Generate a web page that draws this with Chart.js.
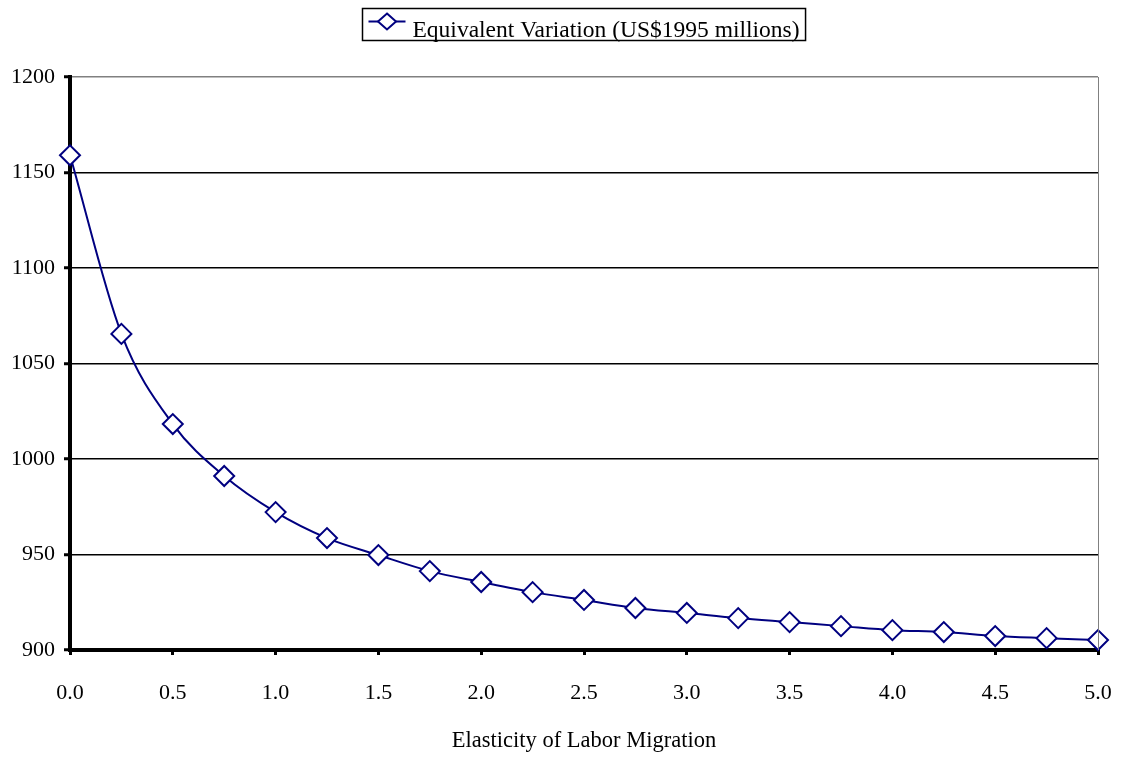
<!DOCTYPE html>
<html>
<head>
<meta charset="utf-8">
<script src="https://cdn.jsdelivr.net/npm/chart.js@4"></script>
<style>
  html, body { margin: 0; padding: 0; background: #fff; }
  #wrap { width: 1122px; height: 757px; }
</style>
</head>
<body>
<div id="wrap"><canvas id="myChart" width="1122" height="757"></canvas></div>
<script>
// values
const elasticity = [0, 0.25, 0.5, 0.75, 1.0, 1.25, 1.5, 1.75, 2.0, 2.25, 2.5,
                    2.75, 3.0, 3.25, 3.5, 3.75, 4.0, 4.25, 4.5, 4.75, 5.0];
const equivVariation = [1159, 1065.5, 1018.3, 991.1, 972.2, 958.6, 949.7, 941.3, 935.6, 930.3, 926.2,
                        922.0, 919.4, 916.7, 914.6, 912.5, 910.4, 909.4, 907.3, 906.2, 905.2];
const seriesLabel = 'Equivalent Variation (US$1995 millions)';
const xTitle = 'Elasticity of Labor Migration';

const navy = '#000080';
const serif = "'Liberation Serif', 'DejaVu Serif', serif";

// legend box and right gray border, drawn by hand like the original
const extras = {
  id: 'extras',
  afterDraw(chart) {
    const c = chart.ctx;
    const a = chart.chartArea;
    c.save();
    // right border
    c.strokeStyle = '#808080';
    c.lineWidth = 1;
    c.beginPath();
    c.moveTo(a.right + 0.5, a.top);
    c.lineTo(a.right + 0.5, a.bottom);
    c.stroke();

    // legend
    c.font = '23.5px ' + serif;
    const tw = c.measureText(seriesLabel).width;
    const boxW = tw + 56;
    const boxH = 32;
    const cx = (a.left + a.right) / 2;
    const bx = Math.round(cx - boxW / 2) + 0.5;
    const by = 8.5;
    c.strokeStyle = '#000';
    c.lineWidth = 1.5;
    c.strokeRect(bx, by, boxW, boxH);
    const ly = by + 13;
    c.strokeStyle = navy;
    c.lineWidth = 2;
    c.beginPath();
    c.moveTo(bx + 6, ly);
    c.lineTo(bx + 43, ly);
    c.stroke();
    c.fillStyle = '#fff';
    c.lineWidth = 2;
    c.beginPath();
    c.moveTo(bx + 24.5, ly - 8);
    c.lineTo(bx + 33.5, ly);
    c.lineTo(bx + 24.5, ly + 8);
    c.lineTo(bx + 15.5, ly);
    c.closePath();
    c.fill();
    c.stroke();
    c.fillStyle = '#000';
    c.textBaseline = 'alphabetic';
    c.textAlign = 'left';
    c.fillText(seriesLabel, bx + 50, by + 28);
    c.restore();
  }
};

new Chart(document.getElementById('myChart'), {
  type: 'line',
  data: {
    datasets: [{
      label: seriesLabel,
      data: elasticity.map((x, i) => ({ x: x, y: equivVariation[i] })),
      borderColor: navy,
      borderWidth: 2,
      backgroundColor: '#fff',
      pointStyle: 'rectRot',
      pointRadius: 10,
      pointBorderWidth: 2,
      pointBorderColor: navy,
      pointBackgroundColor: '#fff',
      cubicInterpolationMode: 'monotone',
      clip: false
    }]
  },
  options: {
    responsive: false,
    animation: false,
    devicePixelRatio: 1,
    layout: { padding: { top: 77, right: 24, left: 0, bottom: 0 } },
    plugins: {
      legend: { display: false },
      tooltip: { enabled: false }
    },
    scales: {
      x: {
        type: 'linear',
        min: 0,
        max: 5,
        ticks: {
          stepSize: 0.5,
          color: '#000',
          font: { family: serif, size: 22 },
          padding: 25,
          maxRotation: 0,
          callback: v => v.toFixed(1)
        },
        grid: { drawOnChartArea: false, drawTicks: true, tickLength: 5, color: '#000', lineWidth: 3 },
        border: { color: '#000', width: 4 },
        title: {
          display: true,
          text: xTitle,
          color: '#000',
          font: { family: serif, size: 22.5 },
          padding: { top: 10, bottom: 2 }
        },
        afterFit(s) {
          s.height = 107;
          s.paddingLeft = 0;
          s.paddingRight = 0;
        }
      },
      y: {
        min: 900,
        max: 1200,
        ticks: {
          stepSize: 50,
          color: '#000',
          font: { family: serif, size: 22 },
          padding: 9,
          callback: v => String(v)
        },
        grid: {
          color: c => (c.tick && c.tick.value === 1200) ? '#808080' : '#000',
          lineWidth: 1.5,
          tickLength: 6,
          tickColor: '#000',
          tickWidth: 3
        },
        border: { color: '#000', width: 4 },
        afterFit(s) { s.width = 70; }
      }
    }
  },
  plugins: [extras]
});
</script>
</body>
</html>
